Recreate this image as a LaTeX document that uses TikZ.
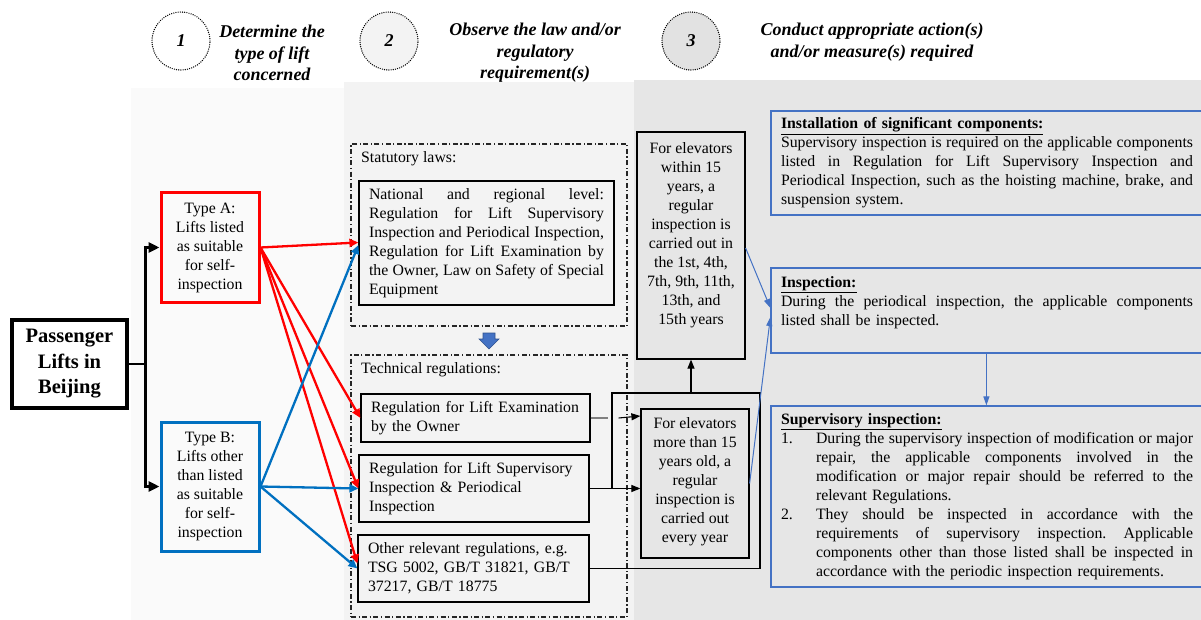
\documentclass[tikz,border=0pt]{standalone}
\usepackage{fontspec}
\setmainfont{Liberation Serif}[BoldFont={Liberation Serif Bold}, ItalicFont={Liberation Serif Italic}, BoldItalicFont={Liberation Serif Bold Italic}]
\usetikzlibrary{arrows.meta}
\frenchspacing
\definecolor{redA}{HTML}{FF0000}
\definecolor{blueB}{HTML}{0070C0}
\definecolor{blueL}{HTML}{4472C4}
\definecolor{blueD}{HTML}{2F528F}
\definecolor{panL}{HTML}{FAFAFA}
\definecolor{panM}{HTML}{F3F3F3}
\definecolor{panR}{HTML}{E6E6E6}
\definecolor{circR}{HTML}{E2E2E2}
\definecolor{stubgray}{HTML}{808080}
\definecolor{ddgray}{HTML}{262626}
\newcommand\fs{\fontsize{15.8}{19}\selectfont}
\newcommand\hfs{\fontsize{18}{21.5}\selectfont\bfseries\itshape}
\newcommand\pfs{\fontsize{20.5}{25.5}\selectfont\bfseries}
\newcommand\jl[2][412pt]{{\frenchspacing\spaceskip=0pt\xspaceskip=0pt\makebox[#1][s]{#2}}}
\begin{document}
\begin{tikzpicture}[x=1pt,y=-1pt,
  box/.style={draw, line width=1.2pt, inner sep=0pt, font=\fs},
  typebox/.style={draw, line width=3pt, inner sep=0pt, font=\fs, align=center, minimum width=98pt},
  txt/.style={inner sep=0pt, font=\fs},
  dd/.style={draw=ddgray, line width=1.1pt, dash pattern=on 5pt off 2.5pt on 1.2pt off 2.5pt, inner sep=0pt},
  hcirc/.style={circle, draw, line width=1.4pt, line cap=round, dash pattern=on 0pt off 2.2pt, minimum size=58pt, inner sep=0pt, font=\hfs},
  htxt/.style={align=center, font=\hfs, inner sep=0pt},
  rbox/.style={draw=blueL, line width=1.2pt, inner xsep=10pt, inner ysep=0pt, text width=412pt, align=left, font=\fs, minimum width=432pt},
  blkthick/.style={line width=2.8pt},
  blkarr/.style={line width=2.8pt, -{Triangle[length=11pt,width=10pt]}},
  rd/.style={draw=redA, line width=2.3pt, -{Triangle[length=9pt,width=8pt]}},
  bu/.style={draw=blueB, line width=2.3pt, -{Triangle[length=9pt,width=8pt]}},
  thinarr/.style={line width=1.1pt, -{Triangle[length=9pt,width=7pt]}},
  thinln/.style={line width=1.1pt},
  bl/.style={draw=blueL, line width=1pt, -{Triangle[length=9pt,width=6pt]}}
]
\useasboundingbox (0,0) rectangle (1201,620);
\fill[white] (0,0) rectangle (1201,620);
% panels
\fill[panL] (131,88) rectangle (344,620);
\fill[panM] (344,82) rectangle (634,620);
\fill[panR] (634,80) rectangle (1201,620);

% header
\node[hcirc, fill=white] (c1) at (181,41) {1};
\node[hcirc, fill=panM] (c2) at (389,41) {2};
\node[hcirc, fill=circR] (c3) at (691,41) {3};
\node[htxt] (h1) at (272,53) {Determine the\\type of lift\\concerned};
\node[htxt] (h2) at (535,53) {Observe the law and/or\\regulatory\\requirement(s)};
\node[htxt] (h3) at (872,42) {Conduct appropriate action(s)\\and/or measure(s) required};

% left column
\node[draw, line width=3.5pt, inner sep=0pt, minimum width=115pt, minimum height=88pt, align=center, font=\pfs] (pl) at (69.5,364) {Passenger\\Lifts in\\Beijing};
\node[typebox, draw=redA, minimum height=109pt] (ta) at (210,247.5) {Type A:\\Lifts listed\\as suitable\\for self-\\inspection};
\node[typebox, draw=blueB, minimum height=129pt] (tb) at (210,486.5) {Type B:\\Lifts other\\than listed\\as suitable\\for self-\\inspection};

% middle column
\node[dd, minimum width=276pt, minimum height=182pt] (stat) at (489,235) {};
\node[txt, anchor=base west] (statt) at (361,163) {Statutory laws:};
\node[box, minimum width=255pt, minimum height=124pt, align=left] (nat) at (486.5,243) {\jl[235pt]{National and regional level:}\\\jl[235pt]{Regulation for Lift Supervisory}\\\jl[235pt]{Inspection and Periodical Inspection,}\\\jl[235pt]{Regulation for Lift Examination by}\\\jl[235pt]{the Owner, Law on Safety of Special}\\Equipment};
\fill[blueL, draw=blueD, line width=0.6pt] (483,333) -- (495,333) -- (495,339) -- (499,339) -- (489,349) -- (479,339) -- (483,339) -- cycle;
\node[dd, minimum width=276pt, minimum height=262pt] (tech) at (489,486) {};
\node[txt, anchor=base west] (techt) at (361,373) {Technical regulations:};
\node[box, minimum width=229pt, minimum height=48pt, text width=209pt, align=left] (exam) at (475.5,418) {Regulation for Lift Examination\\by the Owner};
\node[box, minimum width=230pt, minimum height=67pt, text width=210pt, align=left] (sup) at (474,488.5) {Regulation for Lift Supervisory\\Inspection \& Periodical\\Inspection};
\node[box, minimum width=231pt, minimum height=67pt, text width=211pt, align=left] (oth) at (473.5,568.5) {Other relevant regulations, e.g.\\TSG 5002, GB/T 31821, GB/T\\37217, GB/T 18775};

% right column: elevator boxes
\node[box, minimum width=108pt, minimum height=227pt] (w15) at (691,245.5) {};
\node[txt, align=center] (w15t) at (691,235) {For elevators\\within 15\\years, a\\regular\\inspection is\\carried out in\\the 1st, 4th,\\7th, 9th, 11th,\\13th, and\\15th years};
\node[box, minimum width=108pt, minimum height=149pt] (m15) at (695,483.5) {};
\node[txt, align=center] (m15t) at (695,481.5) {For elevators\\more than 15\\years old, a\\regular\\inspection is\\carried out\\every year};

% right boxes
\node[rbox, minimum height=104pt] (inst) at (987,163) {\underline{\textbf{Installation of significant components:}}\\\jl{Supervisory inspection is required on the applicable components}\\\jl{listed in Regulation for Lift Supervisory Inspection and}\\\jl{Periodical Inspection, such as the hoisting machine, brake, and}\\suspension system.};
\node[rbox, minimum height=85pt] (insp) at (987,310.5) {};
\node[txt, text width=412pt, align=left] (inspt) at (987,303) {\underline{\textbf{Inspection:}}\\\jl{During the periodical inspection, the applicable components}\\listed shall be inspected.};
\node[rbox, minimum height=181pt] (supv) at (987,496.5) {\underline{\textbf{Supervisory inspection:}}\\
\makebox[35pt][l]{1.}\jl[377pt]{During the supervisory inspection of modification or major}\\
\hspace*{35pt}\jl[377pt]{repair, the applicable components involved in the}\\
\hspace*{35pt}\jl[377pt]{modification or major repair should be referred to the}\\
\hspace*{35pt}relevant Regulations.\\
\makebox[35pt][l]{2.}\jl[377pt]{They should be inspected in accordance with the}\\
\hspace*{35pt}\jl[377pt]{requirements of supervisory inspection. Applicable}\\
\hspace*{35pt}\jl[377pt]{components other than those listed shall be inspected in}\\
\hspace*{35pt}accordance with the periodic inspection requirements.};

% connectors: passenger to types
\draw[blkthick] (pl.east) -- ++(17,0) coordinate (j);
\draw[blkarr] (j) |- (ta.west);
\draw[blkarr] (j) |- (tb.west);

% type A (red)
\draw[rd] (ta.east) -- ([yshift=0.5pt]nat.west);
\draw[rd] (ta.east) -- (exam.west);
\draw[rd] (ta.east) -- (sup.west);
\draw[rd] (ta.east) -- ([yshift=5pt]oth.west);
% type B (blue)
\draw[bu] (tb.east) -- ([yshift=-2pt]nat.west);
\draw[bu] (tb.east) -- (sup.west);
\draw[bu] (tb.east) -- (oth.west);

% regulations to elevator boxes
\coordinate (jt) at (612,393);
\coordinate (jr) at (760,393);
\draw[thinln, draw=stubgray] (exam.east) -- ++(17,0);
\draw[thinarr] ([xshift=28pt]exam.east) -- ([yshift=2pt]exam.east -| m15.west);
\draw[thinarr] (sup.east) -- (sup.east -| m15.west);
\draw[thinln] (sup.east -| jt) -- (jt) -- (jr) -- (jr |- oth.east) -- (oth.east);
\draw[thinarr] (w15.south |- jt) -- (w15.south);

% blue thin connectors
\draw[bl] ([yshift=-2.5pt]w15.east) -- ([yshift=2.5pt]insp.west);
\draw[bl] (m15.east) -- ([yshift=-6.5pt]insp.west);
\draw[bl] ([xshift=216pt]insp.south west) -- ([xshift=216pt]supv.north west);
\end{tikzpicture}
\end{document}
